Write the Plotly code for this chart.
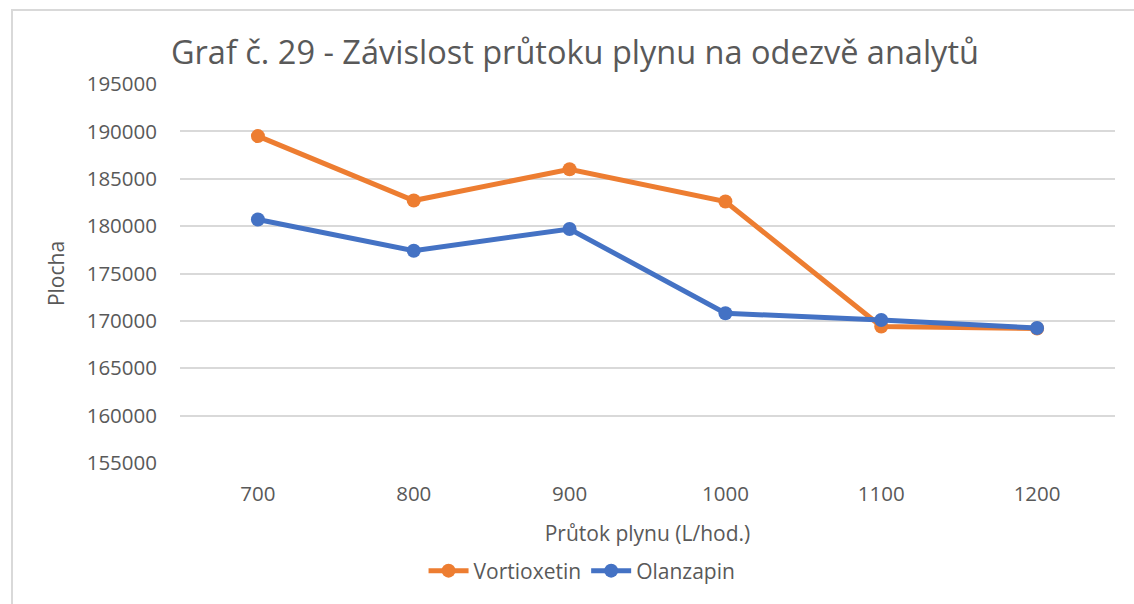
import plotly.graph_objects as go

# Gas flow rates (L/hod.) and peak areas for each analyte
prutok = ["700", "800", "900", "1000", "1100", "1200"]
vortioxetin = [189500, 182700, 186000, 182600, 169400, 169200]
olanzapin = [180700, 177400, 179700, 170800, 170100, 169250]

y_ticks = [155000, 160000, 165000, 170000, 175000, 180000, 185000, 190000, 195000]

ORANGE = "#ED7D31"
BLUE = "#4472C4"
TEXT = "#595959"
GRID = "#d9d9d9"
FONT = "Open Sans"

fig = go.Figure()
fig.add_trace(go.Scatter(
    x=prutok, y=vortioxetin, name="Vortioxetin", mode="lines+markers",
    line=dict(color=ORANGE, width=5), marker=dict(color=ORANGE, size=14),
))
fig.add_trace(go.Scatter(
    x=prutok, y=olanzapin, name="Olanzapin", mode="lines+markers",
    line=dict(color=BLUE, width=5), marker=dict(color=BLUE, size=14),
))

# Chart frame (only top and left edges fall inside the page)
fig.add_shape(
    type="rect", xref="paper", yref="paper",
    x0=-0.1797, x1=1.05, y0=-0.40, y1=1.195,
    line=dict(color=GRID, width=2), fillcolor="rgba(0,0,0,0)", layer="below",
)

fig.update_layout(
    width=1134, height=604,
    margin=dict(l=180, r=19, t=84, b=141),
    paper_bgcolor="white", plot_bgcolor="white",
    font=dict(family=FONT, color=TEXT, size=21),
    title=dict(
        text="Graf č. 29 - Závislost průtoku plynu na odezvě analytů",
        x=0.507, xanchor="center", y=0.913, yanchor="middle",
        font=dict(family=FONT, size=32.5, color=TEXT),
    ),
    xaxis=dict(
        type="category", range=[-0.5, 5.5],
        showgrid=False, showline=False, zeroline=False, ticks="",
        tickfont=dict(size=20.5, color=TEXT),
        ticklabelstandoff=16,
        title=dict(text="Průtok plynu (L/hod.)", font=dict(size=21, color=TEXT), standoff=20),
    ),
    yaxis=dict(
        range=[155000, 195000], tickvals=y_ticks,
        ticktext=[str(v) for v in y_ticks],
        showgrid=True, gridcolor=GRID, gridwidth=2,
        showline=False, zeroline=False, ticks="",
        tickfont=dict(size=20.5, color=TEXT),
        ticklabelstandoff=22,
        title=dict(text="Plocha", font=dict(size=21, color=TEXT), standoff=16),
    ),
    legend=dict(
        orientation="h", x=0.43, xanchor="center", y=-0.285, yanchor="middle",
        font=dict(size=21, color=TEXT), itemwidth=40,
        bgcolor="rgba(0,0,0,0)",
    ),
    showlegend=True,
)

fig.write_html("out.html")
